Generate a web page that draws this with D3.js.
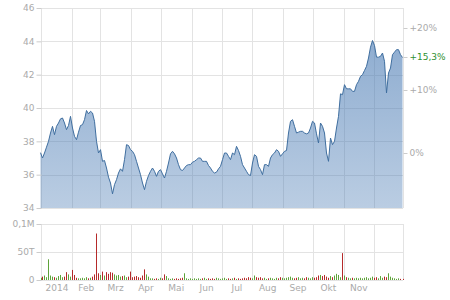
<!DOCTYPE html>
<html>
<head>
<meta charset="utf-8">
<script src="https://cdn.jsdelivr.net/npm/d3@7/dist/d3.min.js"></script>
<style>
  body { margin: 0; background: #fff; }
  svg text { font-family: "DejaVu Sans", sans-serif; font-size: 9px; fill: #aaa; }
</style>
</head>
<body>
<div id="chart"></div>
<script>
// closing prices, evenly spaced over the period (EUR)
var closes = [
  37.32, 37.0, 37.3, 37.65, 38.0, 38.5, 38.9, 38.4, 38.9, 39.1,
  39.35, 39.4, 39.1, 38.7, 38.95, 39.5, 38.8, 38.3, 38.1, 38.55,
  38.95, 39.0, 39.3, 39.85, 39.65, 39.8, 39.7, 39.2, 38.0, 37.3,
  37.5, 36.8, 36.85, 36.4, 35.85, 35.5, 34.85, 35.4, 35.7, 36.1,
  36.35, 36.2, 36.9, 37.8, 37.75, 37.5, 37.4, 37.2, 36.8, 36.4,
  36.0, 35.5, 35.1, 35.6, 35.95, 36.2, 36.4, 36.2, 35.9, 36.2,
  36.3, 36.05, 35.8, 36.2, 36.7, 37.25, 37.4, 37.25, 37.0, 36.6,
  36.3, 36.25, 36.4, 36.55, 36.6, 36.6, 36.75, 36.8, 36.9, 37.0,
  37.0, 36.8, 36.8, 36.8, 36.55, 36.4, 36.2, 36.1, 36.15, 36.35,
  36.5, 36.9, 37.3, 37.3, 37.1, 36.9, 37.3, 37.2, 37.7, 37.45,
  37.1, 36.6, 36.4, 36.2, 36.0, 35.95, 36.7, 37.2, 37.1, 36.5,
  36.3, 36.0, 36.6, 36.6, 36.5, 37.0, 37.2, 37.3, 37.5, 37.4,
  37.1, 37.25, 37.4, 37.45, 38.5, 39.2, 39.3, 38.9, 38.5, 38.55,
  38.6, 38.6, 38.5, 38.45, 38.5, 38.8, 39.2, 39.1, 38.45, 37.9,
  39.1, 38.9, 38.5, 37.3, 36.8, 38.2, 37.8, 38.0, 38.8, 39.5,
  40.85, 40.8, 41.4, 41.15, 41.15, 41.15, 41.0, 41.0, 41.4, 41.6,
  41.9, 42.0, 42.25, 42.5, 43.0, 43.65, 44.05, 43.75, 43.05, 43.05,
  43.1, 43.3, 42.8, 40.9, 42.1, 42.4, 43.2, 43.35, 43.5, 43.5,
  43.2, 43.03
];
// traded volume in thousands, same spacing as closes
var volumes = [
  4, 6, 8, 5, 37, 8, 6, 5, 4, 7,
  9, 5, 6, 14, 10, 6, 18, 9, 4, 3,
  3, 4, 3, 5, 3, 4, 6, 10, 83, 12,
  9, 15, 8, 14, 11, 14, 13, 10, 8, 9,
  6, 7, 8, 5, 6, 15, 5, 6, 7, 5,
  4, 8, 19, 10, 6, 3, 3, 2, 3, 2,
  4, 3, 10, 7, 3, 2, 3, 2, 3, 2,
  3, 4, 12, 3, 2, 3, 2, 3, 2, 3,
  2, 3, 4, 2, 3, 2, 3, 2, 4, 3,
  2, 3, 4, 2, 3, 2, 3, 4, 2, 3,
  2, 3, 4, 3, 5, 4, 3, 8, 5, 4,
  5, 3, 4, 2, 3, 4, 3, 2, 4, 3,
  5, 4, 3, 4, 5, 6, 4, 3, 4, 5,
  3, 4, 3, 5, 4, 3, 5, 4, 5, 8,
  9, 7, 9, 6, 4, 7, 5, 8, 11, 9,
  5, 48, 8, 5, 4, 3, 4, 3, 4, 3,
  4, 3, 4, 5, 3, 4, 6, 4, 5, 3,
  7, 4, 6, 5, 12, 6, 4, 3, 2, 3,
  2, 2
];
var priceTicks = [34, 36, 38, 40, 42, 44, 46];
var pctTicks = [0, 10, 20];
var volTicks = [0, 50, 100];
var volTickLabels = ["0", "50T", "0,1M"];
var monthLabels = ["2014", "Feb", "Mrz", "Apr", "Mai", "Jun", "Jul", "Aug", "Sep", "Okt", "Nov"];
var startDate = new Date(2013, 11, 31), endDate = new Date(2014, 11, 30);

var width = 450, height = 300;
var left = 40.5, right = 402.5;
var mainTop = 8, mainBottom = 208, volTop = 224, volBottom = 280;

var svg = d3.select("#chart").append("svg")
    .attr("width", width)
    .attr("height", height);

var x = d3.scaleTime().domain([startDate, endDate]).range([left, right]);
var y = d3.scaleLinear().domain([34, 46]).range([mainBottom, mainTop]);
var yv = d3.scaleLinear().domain([0, 100]).range([volBottom, volTop]);

var step = (endDate - startDate) / (closes.length - 1);
var data = closes.map(function(c, i) {
  return { date: new Date(+startDate + i * step), close: c, vol: volumes[i],
           up: i === 0 || c >= closes[i - 1] };
});

var months = d3.timeMonth.range(new Date(2014, 0, 1), new Date(2014, 11, 2));

// gradient for the area
var grad = svg.append("defs").append("linearGradient")
    .attr("id", "fill").attr("x1", 0).attr("y1", 0).attr("x2", 0).attr("y2", 1);
grad.append("stop").attr("offset", "0%").attr("stop-color", "#4a7bb4").attr("stop-opacity", 0.62);
grad.append("stop").attr("offset", "100%").attr("stop-color", "#4a7bb4").attr("stop-opacity", 0.38);

// grid, main panel
var grid = svg.append("g").attr("stroke", "#e3e3e3").attr("shape-rendering", "crispEdges");
grid.selectAll(".hg").data(priceTicks).enter().append("line")
    .attr("x1", left).attr("x2", right)
    .attr("y1", function(d) { return Math.round(y(d)) + 0.5; })
    .attr("y2", function(d) { return Math.round(y(d)) + 0.5; });
grid.selectAll(".vg").data(months.slice(1)).enter().append("line")
    .attr("x1", function(d) { return Math.round(x(d)) + 0.5; })
    .attr("x2", function(d) { return Math.round(x(d)) + 0.5; })
    .attr("y1", mainTop).attr("y2", mainBottom);
// grid, volume panel
grid.selectAll(".hv").data(volTicks).enter().append("line")
    .attr("x1", left).attr("x2", right)
    .attr("y1", function(d) { return Math.round(yv(d)) + 0.5; })
    .attr("y2", function(d) { return Math.round(yv(d)) + 0.5; });
grid.selectAll(".vv").data(months.slice(1)).enter().append("line")
    .attr("x1", function(d) { return Math.round(x(d)) + 0.5; })
    .attr("x2", function(d) { return Math.round(x(d)) + 0.5; })
    .attr("y1", volTop).attr("y2", volBottom);
// frame lines left / right
[left, right].forEach(function(px) {
  grid.append("line").attr("x1", Math.round(px) + 0.5).attr("x2", Math.round(px) + 0.5)
      .attr("y1", mainTop).attr("y2", mainBottom);
  grid.append("line").attr("x1", Math.round(px) + 0.5).attr("x2", Math.round(px) + 0.5)
      .attr("y1", volTop).attr("y2", volBottom);
});

// price area + line
var area = d3.area()
    .x(function(d) { return x(d.date); })
    .y0(mainBottom)
    .y1(function(d) { return y(d.close); });
var line = d3.line()
    .x(function(d) { return x(d.date); })
    .y(function(d) { return y(d.close); });

svg.append("path").datum(data)
    .attr("d", area)
    .attr("fill", "url(#fill)");
svg.append("path").datum(data)
    .attr("d", line)
    .attr("fill", "none")
    .attr("stroke", "#3f6e9f")
    .attr("stroke-width", 1);

// volume bars
svg.append("g").selectAll("rect")
    .data(data)
  .enter().append("rect")
    .attr("x", function(d) { return Math.round(x(d.date)); })
    .attr("width", 1)
    .attr("y", function(d) { return yv(d.vol); })
    .attr("height", function(d) { return volBottom - yv(d.vol); })
    .attr("fill", function(d) { return d.up ? "#5ea33a" : "#b52a2a"; });

// left price axis
var yAxis = svg.append("g")
    .attr("transform", "translate(" + (Math.round(left) + 0.5) + ",0)")
    .call(d3.axisLeft(y).tickValues(priceTicks).tickSize(5).tickPadding(2));
yAxis.select(".domain").remove();
yAxis.selectAll("line").attr("stroke", "#ccc");

// right percent axis
var base = closes[0], last = closes[closes.length - 1];
var lastPct = (last / base - 1) * 100;
var pctFmt = function(p) {
  return (p > 0 ? "+" : "") + d3.format(p % 1 === 0 ? ".0f" : ".1f")(p).replace(".", ",") + "%";
};
var pctData = pctTicks.map(function(p) { return { v: base * (1 + p / 100), t: pctFmt(p), hl: false }; });
pctData.push({ v: last, t: pctFmt(+lastPct.toFixed(1)), hl: true });
var rAxis = svg.append("g");
rAxis.selectAll("line").data(pctData).enter().append("line")
    .attr("x1", right + 1).attr("x2", right + 5)
    .attr("y1", function(d) { return Math.round(y(d.v)) + 0.5; })
    .attr("y2", function(d) { return Math.round(y(d.v)) + 0.5; })
    .attr("stroke", "#ccc");
rAxis.selectAll("text").data(pctData).enter().append("text")
    .attr("x", right + 7)
    .attr("y", function(d) { return y(d.v); })
    .attr("dy", "0.32em")
    .style("fill", function(d) { return d.hl ? "#2f8f2f" : "#aaa"; })
    .text(function(d) { return d.t; });

// volume axis
var vAxis = svg.append("g")
    .attr("transform", "translate(" + (Math.round(left) + 0.5) + ",0)")
    .call(d3.axisLeft(yv).tickValues(volTicks).tickSize(5).tickPadding(2)
      .tickFormat(function(d, i) { return volTickLabels[i]; }));
vAxis.select(".domain").remove();
vAxis.selectAll("line").attr("stroke", "#ccc");

svg.selectAll(".tick text").style("fill", "#aaa").style("font-size", "9px")
    .style("font-family", "'DejaVu Sans', sans-serif");

// month labels centred in each month
svg.append("g").selectAll("text")
    .data(months.slice(0, monthLabels.length))
  .enter().append("text")
    .attr("x", function(d) {
      var a = Math.max(x(d), left), b = x(d3.timeMonth.offset(d, 1));
      return (a + b) / 2;
    })
    .attr("y", 290.5)
    .attr("text-anchor", "middle")
    .text(function(d, i) { return monthLabels[i]; });
</script>
</body>
</html>
